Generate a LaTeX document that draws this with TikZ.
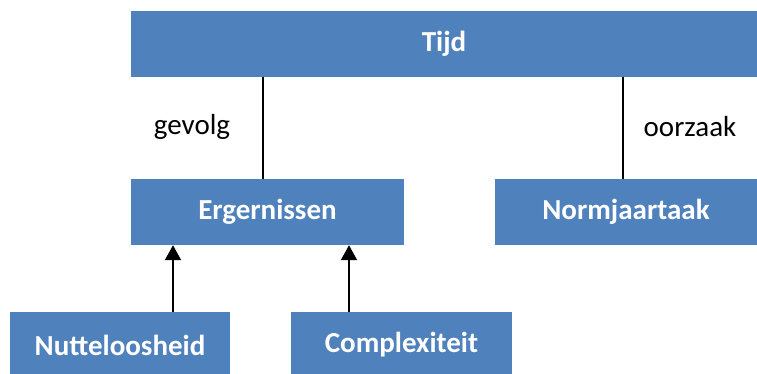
\documentclass[tikz,border=0pt]{standalone}
\usepackage{fontspec}
\setmainfont{Carlito}
\usetikzlibrary{arrows.meta}
\definecolor{boxblue}{HTML}{4F81BD}
\begin{document}
\begin{tikzpicture}[x=1pt,y=-1pt,
    box/.style={rectangle,fill=boxblue,text=white,inner sep=0pt,
      font=\fontsize{29}{33}\selectfont\bfseries},
    lbl/.style={font=\fontsize{29}{33}\selectfont},
    link/.style={line width=2pt},
    arr/.style={line width=2pt,-{Triangle[width=16pt,length=15pt]}}]
      \useasboundingbox (0,0) rectangle (757,373);
      \draw
        (444,44) node[box,minimum width=626pt,minimum height=66pt] (tijd){Tijd}
        (267.5,212) node[box,minimum width=273pt,minimum height=66pt] (ergernissen){Ergernissen}
        (626,212) node[box,minimum width=262pt,minimum height=66pt] (normjaartaak){Normjaartaak}
        (120,345) node[box,minimum width=220pt,minimum height=66pt] (nutteloosheid){Nutteloosheid}
        (401.5,345) node[box,minimum width=221pt,minimum height=66pt] (complexiteit){Complexiteit}
        (192,127) node[lbl] (gevolg){gevolg}
        (690,127) node[lbl] (oorzaak){oorzaak};
      \begin{scope}[link]
        \draw ([xshift=-4.5pt]ergernissen.north) to ([xshift=-4.5pt]ergernissen.north |- tijd.south);
        \draw ([xshift=-3pt]normjaartaak.north) to ([xshift=-3pt]normjaartaak.north |- tijd.south);
      \end{scope}
      \begin{scope}[arr]
        \draw ([xshift=53pt]nutteloosheid.north) to ([xshift=53pt]nutteloosheid.north |- ergernissen.south);
        \draw ([xshift=-52.5pt]complexiteit.north) to ([xshift=-52.5pt]complexiteit.north |- ergernissen.south);
      \end{scope}
    \end{tikzpicture}
\end{document}
